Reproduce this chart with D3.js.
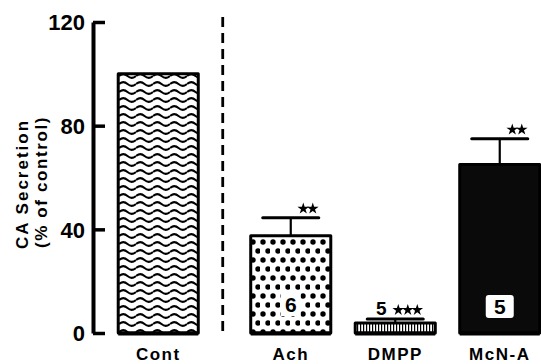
<!DOCTYPE html>
<html>
<head>
<meta charset="utf-8">
<script src="https://cdn.jsdelivr.net/npm/d3@7"></script>
<style>
  body { margin: 0; background: #fff; }
  text { font-family: "Liberation Sans", Arial, sans-serif; font-weight: bold; fill: #000; }
</style>
</head>
<body>
<div id="chart-area"></div>
<script>
// data
var categories = ["Cont", "Ach", "DMPP", "McN-A"];
var means = [100, 37.5, 3.9, 65];
var errors = [0, 7, 1.5, 10];
var nLabels = ["", "6", "5", "5"];
var stars = [0, 2, 3, 2];
var yTicks = [0, 40, 80, 120];

var width = 541, height = 364;
var controlShift = -28;   // control bar sits apart, left of the dashed divider

var svg = d3.select("#chart-area").append("svg").attr("width", width).attr("height", height);
var defs = svg.append("defs");

// patterns
var wave = defs.append("pattern").attr("id", "wave").attr("patternUnits", "userSpaceOnUse")
  .attr("width", 17).attr("height", 8).attr("x", 119).attr("y", 72);
wave.append("path").attr("d", "M0,4 Q4.25,0.3 8.5,4 T17,4").attr("fill", "none")
  .attr("stroke", "#000").attr("stroke-width", 2);

var dots = defs.append("pattern").attr("id", "dots").attr("patternUnits", "userSpaceOnUse")
  .attr("width", 10).attr("height", 18).attr("x", 250).attr("y", 238);
dots.append("circle").attr("cx", 3).attr("cy", 4).attr("r", 2.7).attr("fill", "#000");
dots.append("circle").attr("cx", 8).attr("cy", 13).attr("r", 2.7).attr("fill", "#000");

var stripes = defs.append("pattern").attr("id", "stripes").attr("patternUnits", "userSpaceOnUse")
  .attr("width", 3).attr("height", 10);
stripes.append("rect").attr("x", 0).attr("y", 0).attr("width", 1.2).attr("height", 10).attr("fill", "#000");

var fills = ["url(#wave)", "url(#dots)", "url(#stripes)", "#0a0a0a"];

// scales
var y = d3.scaleLinear().domain([0, 120]).range([333, 22]);
var x = d3.scaleBand().domain(categories).range([134, 552]).paddingInner(0.234).paddingOuter(0.117);
var bx = (d, i) => x(d) + (i === 0 ? controlShift : 0);

// y axis
var yAxis = svg.append("g").attr("transform", "translate(93,0)")
  .call(d3.axisLeft(y).tickValues(yTicks).tickSizeInner(-12).tickSizeOuter(0).tickPadding(8));
yAxis.select(".domain").attr("stroke", "#000").attr("stroke-width", 4);
yAxis.selectAll(".tick line").attr("stroke", "#000").attr("stroke-width", 3.5);
yAxis.selectAll(".tick text").style("font-size", "22px").style("font-family", "Liberation Sans, Arial, sans-serif")
  .style("font-weight", "bold").attr("dy", "0.36em");

// y label
svg.append("text").attr("transform", "translate(28,184) rotate(-90)").attr("text-anchor", "middle")
  .style("font-size", "17px").style("letter-spacing", "2px").text("CA Secretion");
svg.append("text").attr("transform", "translate(47,182) rotate(-90)").attr("text-anchor", "middle")
  .style("font-size", "17px").style("letter-spacing", "1.6px").text("(% of control)");

// divider
svg.append("line").attr("x1", x("Ach") + controlShift).attr("x2", x("Ach") + controlShift)
  .attr("y1", 17).attr("y2", 333).attr("stroke", "#000").attr("stroke-width", 2.8)
  .attr("stroke-dasharray", "10,6");

// error bars
var errG = svg.selectAll(".err").data(categories).enter().append("g").attr("class", "err")
  .filter((d, i) => errors[i] > 0);
var errTop = d => { var k = categories.indexOf(d); return y(means[k] + errors[k]); };
errG.append("line").attr("x1", d => x(d) + x.bandwidth() / 2).attr("x2", d => x(d) + x.bandwidth() / 2)
  .attr("y1", d => y(means[categories.indexOf(d)])).attr("y2", errTop)
  .attr("stroke", "#000").attr("stroke-width", 2.2);
errG.append("line").attr("x1", d => x(d) + 12).attr("x2", d => x(d) + x.bandwidth() - 12)
  .attr("y1", errTop).attr("y2", errTop)
  .attr("stroke", "#000").attr("stroke-width", 3).attr("stroke-linecap", "round");

// bars
svg.selectAll(".bar").data(categories).enter().append("rect").attr("class", "bar")
  .attr("x", (d, i) => bx(d, i)).attr("width", x.bandwidth())
  .attr("y", (d, i) => y(means[i])).attr("height", (d, i) => y(0) - y(means[i]))
  .attr("fill", (d, i) => fills[i]).attr("stroke", "#000").attr("stroke-width", 3)
  .attr("stroke-linejoin", "round");
// heavy base under bars
svg.selectAll(".base").data(categories).enter().append("line")
  .attr("x1", (d, i) => bx(d, i)).attr("x2", (d, i) => bx(d, i) + x.bandwidth())
  .attr("y1", y(0) + 0.5).attr("y2", y(0) + 0.5).attr("stroke", "#000").attr("stroke-width", 4);

// stars
var starSym = d3.symbol().type(d3.symbolStar).size(42);
categories.forEach((d, i) => {
  var capY = y(means[i] + errors[i]);
  var right = x(d) + x.bandwidth() - 12;
  for (var s = 0; s < stars[i]; s++) {
    svg.append("path").attr("d", starSym())
      .attr("transform", "translate(" + (right - 6 - s * 9.5) + "," + (capY - 9) + ")")
      .attr("fill", "#000");
  }
});

// n labels
// Ach: number on a cleared patch
var achC = x("Ach") + x.bandwidth() / 2;
svg.append("rect").attr("x", achC - 10).attr("y", 292).attr("width", 20).attr("height", 24).attr("fill", "#fff");
svg.append("text").attr("x", achC).attr("y", 312).attr("text-anchor", "middle").style("font-size", "21px")
  .text(nLabels[1]);
// DMPP: number above the bar, left of the stars
svg.append("text").attr("x", x("DMPP") + 26).attr("y", 315).attr("text-anchor", "middle").style("font-size", "19px")
  .text(nLabels[2]);
// McN-A: white box inside dark bar
var mcC = x("McN-A") + x.bandwidth() / 2;
svg.append("rect").attr("x", mcC - 14).attr("y", 295).attr("width", 28).attr("height", 23).attr("rx", 3)
  .attr("fill", "#fff");
svg.append("text").attr("x", mcC).attr("y", 314).attr("text-anchor", "middle").style("font-size", "21px")
  .text(nLabels[3]);

// category labels
svg.selectAll(".cat").data(categories).enter().append("text").attr("class", "cat")
  .attr("x", (d, i) => bx(d, i) + x.bandwidth() / 2).attr("y", 360).attr("text-anchor", "middle")
  .style("font-size", "17px").style("letter-spacing", "1.5px").text(d => d);
</script>
</body>
</html>
